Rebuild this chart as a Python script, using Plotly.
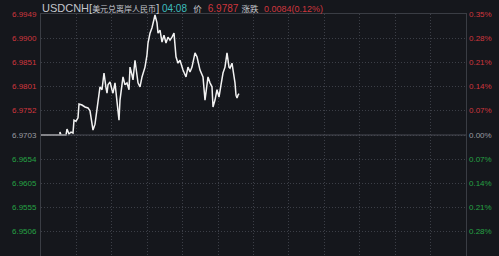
import plotly.graph_objects as go

# ---- data ----
minute_idx = [0, 19, 19, 20, 25, 26, 28, 30, 32, 33, 35, 37, 38, 41, 44, 47, 49, 50, 52, 54,
              56, 57, 59, 61, 63, 65, 66, 67, 69, 71, 72, 74, 76, 78, 79, 81, 82, 84, 86, 88,
              89, 91, 92, 94, 96, 97, 99, 101, 104, 106, 107, 109, 111, 112, 114, 116, 117, 119,
              121, 123, 125, 127, 129, 131, 133, 135, 137, 139, 142, 145, 147, 149, 151, 154,
              156, 159, 162, 164, 166, 167, 169, 171, 172, 174, 176, 178, 180, 182, 184, 186,
              188, 189, 191, 192, 194, 195, 196, 197, 198]
price = [6.9703, 6.9703, 6.9709, 6.9703, 6.9703, 6.9715, 6.9705, 6.9709, 6.9707, 6.9733,
         6.9731, 6.9738, 6.9766, 6.9764, 6.9760, 6.9758, 6.9752, 6.9740, 6.9713, 6.9725,
         6.9754, 6.9774, 6.9801, 6.9795, 6.9829, 6.9799, 6.9788, 6.9805, 6.9811, 6.9795,
         6.9788, 6.9809, 6.9774, 6.9733, 6.9774, 6.9799, 6.9821, 6.9805, 6.9809, 6.9795,
         6.9841, 6.9825, 6.9815, 6.9855, 6.9825, 6.9809, 6.9801, 6.9821, 6.9841, 6.9866,
         6.9890, 6.9910, 6.9921, 6.9931, 6.9947, 6.9931, 6.9910, 6.9916, 6.9892, 6.9906,
         6.9890, 6.9902, 6.9896, 6.9902, 6.9910, 6.9862, 6.9849, 6.9855, 6.9835, 6.9821,
         6.9841, 6.9831, 6.9841, 6.9870, 6.9862, 6.9835, 6.9821, 6.9774, 6.9805, 6.9821,
         6.9809, 6.9801, 6.9760, 6.9774, 6.9795, 6.9780, 6.9805, 6.9829, 6.9841, 6.9870,
         6.9841, 6.9839, 6.9849, 6.9835, 6.9809, 6.9784, 6.9778, 6.9784, 6.9787]

prev_close = 6.9703
left_ticks = [6.9949, 6.9900, 6.9851, 6.9801, 6.9752, 6.9703, 6.9654, 6.9605, 6.9555, 6.9506]
right_labels = ["0.35%", "0.28%", "0.21%", "0.14%", "0.07%", "0.00%", "0.07%", "0.14%", "0.21%", "0.28%"]

title_name = "USDCNH"
title_name_cn = "美元兑离岸人民币"
title_time = "04:08"
title_price_label = "价"
title_price = "6.9787"
title_change_label = "涨跌"
title_change = "0.0084(0.12%)"

# ---- style ----
BG = "#15171c"
RED = "#d0363d"
GREEN = "#25a244"
GRAY = "#9a9ca2"
GRID = "#3c3f47"
TXT = "#c4c6cc"
FONT = "Liberation Sans, Arial, Noto Sans CJK SC, sans-serif"


def col(v):
    if abs(v - prev_close) < 1e-6:
        return GRAY
    return RED if v > prev_close else GREEN


fig = go.Figure()
fig.add_trace(go.Scatter(x=minute_idx, y=price, mode="lines",
                         line=dict(color="#f2f2f2", width=1.5), hoverinfo="skip"))

fig.add_hline(y=prev_close, line=dict(color="#4a4d55", width=1))

for v, r in zip(left_ticks, right_labels):
    fig.add_annotation(x=0, xref="paper", y=v, yref="y", text=f"{v:.4f}",
                       showarrow=False, xanchor="right", xshift=-2,
                       font=dict(family=FONT, size=8, color=col(v)))
    fig.add_annotation(x=1, xref="paper", y=v, yref="y", text=r,
                       showarrow=False, xanchor="left", xshift=1,
                       font=dict(family=FONT, size=8, color=col(v)))

sp = "&nbsp;"
title = (f"<span style='color:{TXT}'>{title_name}[</span>"
         f"<span style='color:{TXT};font-size:8px'>{title_name_cn}</span>"
         f"<span style='color:{TXT}'>]</span>"
         f"<span style='color:#3dbdbd;font-size:10px'>{sp}{title_time}</span>{sp*2}"
         f"<span style='color:{TXT};font-size:8.5px'>{title_price_label}</span>{sp*2}"
         f"<span style='color:{RED};font-size:10px'>{title_price}</span>{sp}"
         f"<span style='color:{TXT};font-size:8.5px'>{title_change_label}</span>{sp}"
         f"<span style='color:{RED};font-size:9px'>{sp}{title_change}</span>")
fig.add_annotation(x=0, xref="paper", y=1, yref="paper", yshift=6, text=title,
                   showarrow=False, xanchor="left", xshift=-1, yanchor="middle",
                   font=dict(family=FONT, size=11))

fig.update_layout(
    width=499, height=256,
    margin=dict(l=41, r=33, t=14, b=0),
    paper_bgcolor=BG, plot_bgcolor=BG,
    showlegend=False,
    xaxis=dict(range=[0, 425], showticklabels=False, zeroline=False,
               tick0=0, dtick=425 / 12, showgrid=True, gridcolor=GRID,
               griddash="1px,2px", gridwidth=1,
               showline=True, linecolor="#3a3d44", mirror=True),
    yaxis=dict(range=[6.9457, 6.9949], showticklabels=False, zeroline=False,
               tickvals=left_ticks, showgrid=True, gridcolor=GRID,
               griddash="1px,2px", gridwidth=1,
               showline=True, linecolor="#3a3d44", mirror=True),
)

fig.write_html("out.html")
